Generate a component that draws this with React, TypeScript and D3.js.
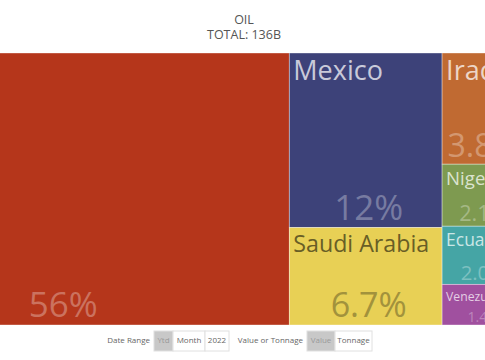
import React from "react";
import * as d3 from "d3";

const title = "OIL";
const totalLabel = "TOTAL: 136B";

// columns of the layout (groups), countries and values (billions)
const countries = ["Canada", "Mexico", "Saudi Arabia", "Iraq", "Nigeria", "Ecuador", "Venezuela", "Colombia", "Brazil", "Guyana", "Kuwait", "Russia", "Others"];
const values = [76.2, 16.3, 9.1, 5.2, 2.9, 2.72, 1.9, 5.6, 4.8, 3.4, 2.9, 2.6, 2.38];
const columnOf = [0, 1, 1, 2, 2, 2, 2, 3, 3, 3, 4, 4, 4];
const colors = ["#b5361b", "#3d4279", "#e8d055", "#c06a32", "#7e9a50", "#45a5a5", "#a0509f", "#5a7fb0", "#d18a3a", "#6b8e6b", "#8a5a8a", "#b04a5a", "#7a7a7a"];
const lightTiles = ["Saudi Arabia"];

const dateOptions = ["Ytd", "Month", "2022"];
const valueOptions = ["Value", "Tonnage"];

const W = 485;
const H = 360;
const FONT = "'Open Sans', 'Noto Sans', sans-serif";

type Leaf = { name: string; value: number; color: string };

export default function App() {
  const total = d3.sum(values);
  const groups = d3.groups(
    countries.map((c, i) => ({ name: c, value: values[i], color: colors[i], col: columnOf[i] })),
    (d) => d.col
  );
  const rootData: any = {
    name: "root",
    children: groups.map(([col, items]) =>
      items.length === 1 ? { ...items[0] } : { name: "col" + col, children: items }
    ),
  };
  const root = d3
    .hierarchy(rootData)
    .sum((d: any) => (d.children ? 0 : d.value));
  const mapW = 818;
  const mapH = 272;
  const offX = -169;
  const offY = 53;
  d3.treemap().tile(d3.treemapSliceDice).size([mapW, mapH]).round(false)(root as any);
  const leaves = root.leaves() as any[];

  const x = d3.scaleLinear().domain([0, mapW]).range([offX, offX + mapW]);
  const y = d3.scaleLinear().domain([0, mapH]).range([offY, offY + mapH]);
  const pct = (v: number) => {
    const p = (v / total) * 100;
    return (p >= 10 ? d3.format(".0f")(p) : d3.format(".1f")(p)) + "%";
  };

  // control bar layout
  const ctrlY = 331;
  const ctrlH = 20;
  const dateX = [154, 173, 205, 229];
  const valX = [307, 335, 372];

  return (
    <svg width={W} height={H} style={{ position: "absolute", left: 0, top: 0, background: "#fff" }} fontFamily={FONT}>
      <defs>
        <clipPath id="mapclip">
          <rect x={0} y={offY} width={W} height={mapH} />
        </clipPath>
      </defs>
      <text x={244} y={24} textAnchor="middle" fontSize={12.5} fill="#555">{title}</text>
      <text x={244} y={39} textAnchor="middle" fontSize={12.5} fill="#555">{totalLabel}</text>
      <g clipPath="url(#mapclip)">
        {leaves.map((lf, i) => {
          const d: Leaf = lf.data;
          const x0 = x(lf.x0), x1 = x(lf.x1), y0 = y(lf.y0), y1 = y(lf.y1);
          const w = x1 - x0, h = y1 - y0;
          const light = lightTiles.includes(d.name);
          const nameFill = light ? d3.interpolateRgb(d.color, "#000")(0.55) : d3.interpolateRgb(d.color, "#fff")(0.72);
          const pctFill = light ? d3.interpolateRgb(d.color, "#000")(0.3) : d3.interpolateRgb(d.color, "#fff")(0.3);
          const nameSize = Math.min(27, h * 0.3, (w - 8) / (d.name.length * 0.52));
          const pctSize = Math.min(35, h * 0.35, w * 0.42);
          return (
            <g key={i}>
              <rect x={x0} y={y0} width={w} height={h} fill={d.color} stroke="#fff" strokeOpacity={0.45} strokeWidth={0.8} />
              <text x={x0 + 4} y={y0 + 7.5 + 0.72 * nameSize} fontSize={nameSize} fill={nameFill}>{d.name}</text>
              <text x={(x0 + x1) / 2 + 3} y={y1 - 0.22 * pctSize} textAnchor="middle" fontSize={pctSize} fill={pctFill}>{pct(d.value)}</text>
            </g>
          );
        })}
      </g>
      <g fontSize={8} fill="#666">
        <text x={150} y={343} textAnchor="end">Date Range</text>
        {dateOptions.map((o, i) => (
          <g key={o}>
            <rect x={dateX[i]} y={ctrlY} width={dateX[i + 1] - dateX[i]} height={ctrlH} fill={i === 0 ? "#c8c8c8" : "#fff"} stroke="#e0e0e0" strokeWidth={1} />
            <text x={(dateX[i] + dateX[i + 1]) / 2} y={343} textAnchor="middle" fill={i === 0 ? "#999" : "#666"}>{o}</text>
          </g>
        ))}
        <text x={303} y={343} textAnchor="end">Value or Tonnage</text>
        {valueOptions.map((o, i) => (
          <g key={o}>
            <rect x={valX[i]} y={ctrlY} width={valX[i + 1] - valX[i]} height={ctrlH} fill={i === 0 ? "#c8c8c8" : "#fff"} stroke="#e0e0e0" strokeWidth={1} />
            <text x={(valX[i] + valX[i + 1]) / 2} y={343} textAnchor="middle" fill={i === 0 ? "#999" : "#666"}>{o}</text>
          </g>
        ))}
      </g>
    </svg>
  );
}
